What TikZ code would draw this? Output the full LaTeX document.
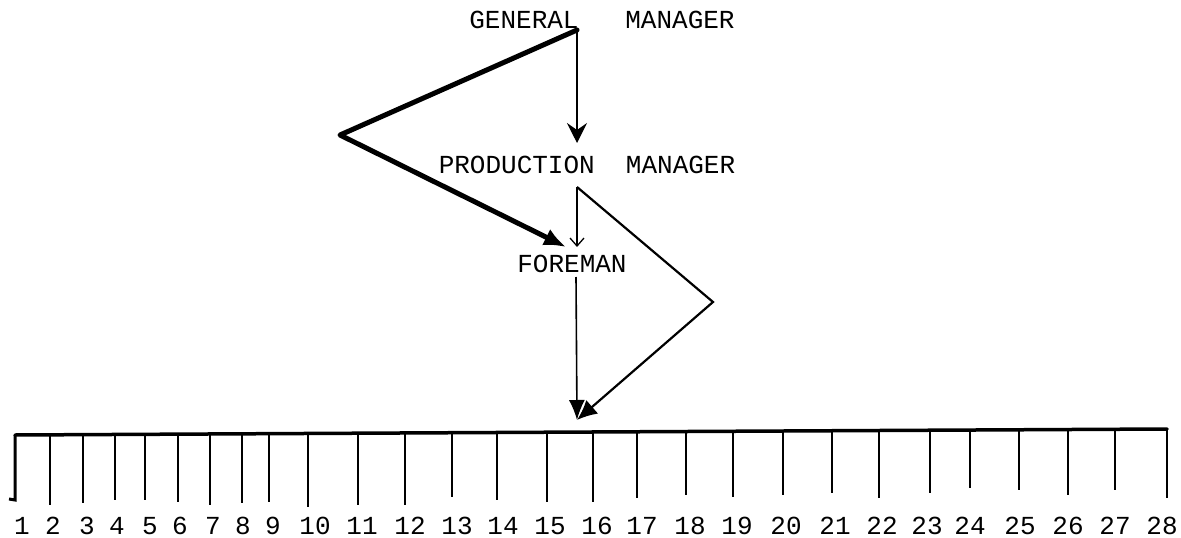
\documentclass[tikz,border=0pt]{standalone}
\usepackage{fontspec}
\setmonofont{Liberation Mono}
\usetikzlibrary{arrows.meta}
\begin{document}
\begin{tikzpicture}[x=1pt,y=-1pt,
  lbl/.style={font=\ttfamily\fontsize{26}{26}\selectfont, inner sep=0pt, anchor=base},
  num/.style={font=\ttfamily\fontsize{26}{26}\selectfont, inner sep=0pt, anchor=base},
  hairline/.style={line width=1.3pt},
  heavyline/.style={line width=5pt, line join=round, line cap=round},
  loopline/.style={line width=2.2pt, line join=miter},
  rulerline/.style={line width=3.5pt, line cap=round},
  tickline/.style={line width=2.4pt}]
\path[use as bounding box] (0,0) rectangle (1181,538);

% titles
\node[lbl] (gm) at (602,28) {GENERAL~~~MANAGER};
\node[lbl] (pm) at (587,173) {PRODUCTION~~MANAGER};
\node[lbl] (fm) at (572,272) {FOREMAN};

% connector end points
\coordinate (gmfoot) at (577,30);
\coordinate (pmhead) at (577,143);
\coordinate (bend) at (340,135);
\coordinate (fmhead) at (566,247);
\coordinate (pmfoot) at (577,187);
\coordinate (fmtop) at (577,247);
\coordinate (swing) at (713,302);
\coordinate (fmfoot) at (576,277);
\coordinate (rulerhit) at (577,420);

% chain of command
\draw[hairline, -{Stealth[length=20pt,width=20pt,inset=7pt]}] (gmfoot) -- (pmhead);
\draw[heavyline, -{Latex[length=22pt,width=18pt]}] (gmfoot) -- (bend) -- (fmhead);
\draw[hairline, -{Straight Barb[length=8pt,width=14pt]}] (pmfoot) -- (fmtop);
\draw[loopline, -{Latex[length=20pt,width=18pt]}] (pmfoot) -- (swing) -- (rulerhit);
\draw[line width=1.6pt, -{Latex[length=20pt,width=16pt]}] (fmfoot) -- (rulerhit);

% the scale of workers
\coordinate (rstart) at (15,435);
\coordinate (rend) at (1167,429);
\draw[rulerline] (rstart) -- (rend);
\draw[tickline, line width=3pt] (rstart) -- (15,500) -- (9,499);
\foreach \x/\b/\lx/\n in {
  50/505/53/2, 83/503/87/3, 115/500/117/4, 145/500/150/5, 178/502/180/6,
  210/505/213/7, 242/503/243/8, 269/502/273/9, 308/507/315/10, 358/505/362/11,
  405/505/410/12, 452/497/457/13, 497/500/503/14, 547/502/550/15, 593/502/597/16,
  637/498/642/17, 686/495/690/18, 733/497/737/19, 783/495/786/20, 832/493/835/21,
  879/498/882/22, 930/493/927/23, 970/488/970/24, 1019/490/1020/25, 1068/495/1068/26,
  1115/490/1115/27, 1167/498/1162/28}{
  \pgfmathsetmacro{\ty}{435-6*(\x-15)/1152}
  \coordinate (t\n) at (\x,\ty);
  \draw[tickline] (t\n) -- (\x,\b);
  \node[num] (n\n) at (\lx,534) {\n};
}
\node[num] (n1) at (22,534) {1};
\end{tikzpicture}
\end{document}
